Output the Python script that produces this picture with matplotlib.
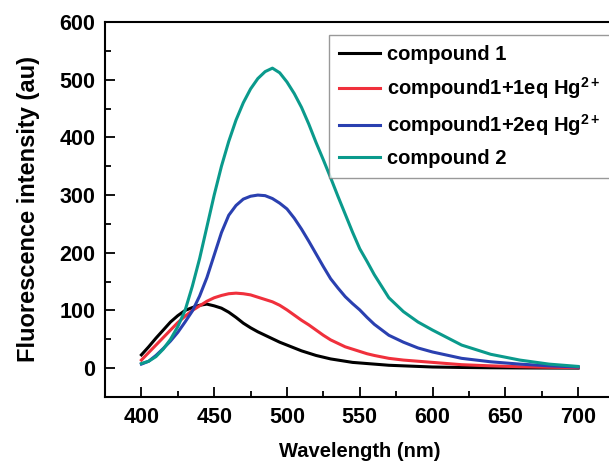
import matplotlib
matplotlib.use("Agg")
import matplotlib.pyplot as plt
from matplotlib.ticker import MultipleLocator

plt.rcParams['font.family'] = ['Liberation Sans', 'DejaVu Sans']
plt.rcParams['font.weight'] = 'bold'
plt.rcParams['mathtext.fontset'] = 'custom'
plt.rcParams['mathtext.bf'] = 'Liberation Sans:bold'
plt.rcParams['mathtext.rm'] = 'Liberation Sans:bold'

wavelength = [400, 405, 410, 415, 420, 425, 430, 435, 440, 445, 450, 455, 460, 465, 470,
              475, 480, 485, 490, 495, 500, 505, 510, 515, 520, 525, 530, 535, 540, 545,
              550, 555, 560, 570, 580, 590, 600, 620, 640, 660, 680, 700]
compound1 = [23, 37, 52, 66, 80, 91, 100, 105, 109, 111, 108, 104, 97, 88, 78,
             70, 63, 57, 51, 45, 40, 35, 30, 26, 22, 19, 16, 14, 12, 10,
             9, 8, 7, 5, 4, 3, 2, 1.2, 0.7, 0.4, 0.2, 0.1]
hg1eq = [14, 27, 40, 53, 66, 79, 90, 100, 108, 116, 122, 126, 129, 130, 129,
         127, 123, 119, 115, 109, 101, 92, 83, 75, 66, 57, 49, 43, 37, 33,
         29, 25, 22, 17, 14, 12, 10, 6, 4, 2.5, 1.5, 1]
hg2eq = [7, 12, 22, 34, 47, 62, 80, 99, 125, 157, 196, 235, 265, 282, 293,
         298, 300, 299, 294, 286, 276, 260, 241, 220, 198, 176, 155, 139, 124, 112,
         101, 88, 76, 57, 45, 35, 28, 17, 11, 7, 4, 2]
compound2 = [8, 12, 20, 33, 50, 72, 100, 142, 190, 245, 300, 350, 393, 430, 460,
             484, 502, 514, 520, 512, 496, 476, 452, 423, 391, 361, 330, 298, 267, 236,
             207, 185, 162, 122, 98, 80, 66, 40, 24, 14, 7, 3]

labels = ['compound 1', r'compound1+1eq Hg$^{\mathbf{2+}}$',
          r'compound1+2eq Hg$^{\mathbf{2+}}$', 'compound 2']
colors = ['#000000', '#f0303c', '#2a40b0', '#0a9a8c']
series = [compound1, hg1eq, hg2eq, compound2]

fig = plt.figure(figsize=(6.09, 4.68), dpi=100)
ax = fig.add_axes([105/609, 71/468, 509.5/609, 375/468])

for ys, c, lab in zip(series, colors, labels):
    ax.plot(wavelength, ys, color=c, lw=2.2, label=lab, solid_joinstyle='round')

ax.set_xlim(375, 725)
ax.set_ylim(-50, 600)
ax.xaxis.set_minor_locator(MultipleLocator(25))
ax.yaxis.set_minor_locator(MultipleLocator(50))
ax.set_xticks(range(400, 701, 50))
ax.set_yticks(range(0, 601, 100))
ax.tick_params(which='major', direction='in', length=7, width=1.3, labelsize=15.5, pad=7)
ax.tick_params(which='minor', direction='in', length=4, width=1.3)
ax.tick_params(top=False, right=False, which='both')
for s in ax.spines.values():
    s.set_linewidth(1.5)

ax.set_xlabel('Wavelength (nm)', fontsize=14.5, fontweight='bold', labelpad=10)
ax.set_ylabel('Fluorescence intensity (au)', fontsize=17, fontweight='bold', labelpad=14)

leg = ax.legend(loc='upper left', bbox_to_anchor=(0.4396, 0.9653), fontsize=14.5,
                handlelength=2.05, handletextpad=0.35, labelspacing=0.55,
                borderpad=0.5, borderaxespad=0, fancybox=False, frameon=True)
leg.get_frame().set_edgecolor('#808080')
leg.get_frame().set_linewidth(1.0)

fig.savefig('out.png', dpi=100)
